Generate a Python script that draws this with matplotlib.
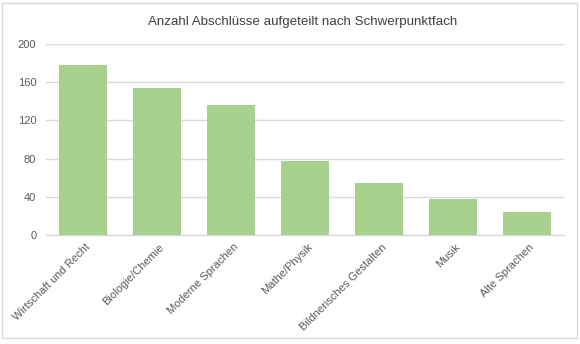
import matplotlib
matplotlib.use("Agg")
import matplotlib.pyplot as plt
from matplotlib.patches import Rectangle
from matplotlib.transforms import ScaledTranslation

categories = ["Wirtschaft und Recht", "Biologie/Chemie", "Moderne Sprachen",
              "Mathe/Physik", "Bildnerisches Gestalten", "Musik", "Alte Sprachen"]
counts = [178, 154, 136, 77, 54, 38, 24]
y_ticks = [0, 40, 80, 120, 160, 200]
title = "Anzahl Abschlüsse aufgeteilt nach Schwerpunktfach"

plt.rcParams['font.family'] = ['Liberation Sans', 'DejaVu Sans']

W, H = 580, 344
fig = plt.figure(figsize=(W / 100, H / 100), dpi=100)
fig.patch.set_facecolor("white")

# outer chart frame
fig.patches.append(Rectangle((2 / W, 6 / H), 575 / W, 335 / H, transform=fig.transFigure,
                             fill=False, edgecolor="#d9d9d9", linewidth=1))

left, right = 46 / W, 564 / W
bottom, top = 1 - 235 / H, 1 - 44 / H
ax = fig.add_axes([left, bottom, right - left, top - bottom])

x = range(len(categories))
ax.bar(x, counts, width=0.66, color="#a9d18e", zorder=3)

ax.set_xlim(-0.5, len(categories) - 0.5)
ax.set_ylim(0, 200)
ax.set_yticks(y_ticks)
ax.set_yticklabels([str(v) for v in y_ticks], fontsize=8, color="#595959")
ax.set_xticks(list(x))
ax.set_xticklabels(categories, rotation=45, ha="right", rotation_mode="anchor",
                   fontsize=8, color="#595959")
ax.tick_params(axis="both", length=0)
ax.tick_params(axis="y", pad=7)
ax.tick_params(axis="x", pad=5)

# nudge the slanted category labels slightly to the right
shift = ScaledTranslation(2 / 100, 0, fig.dpi_scale_trans)
for lbl in ax.get_xticklabels():
    lbl.set_transform(lbl.get_transform() + shift)

ax.grid(axis="y", color="#d9d9d9", linewidth=1, zorder=0)
for side in ["left", "right", "top"]:
    ax.spines[side].set_visible(False)
ax.spines["bottom"].set_color("#d9d9d9")
ax.spines["bottom"].set_linewidth(1)

fig.text(303 / W, 1 - 22 / H, title, ha="center", va="center", fontsize=9.6, color="#404040")

fig.savefig("out.png", dpi=100, facecolor="white")
